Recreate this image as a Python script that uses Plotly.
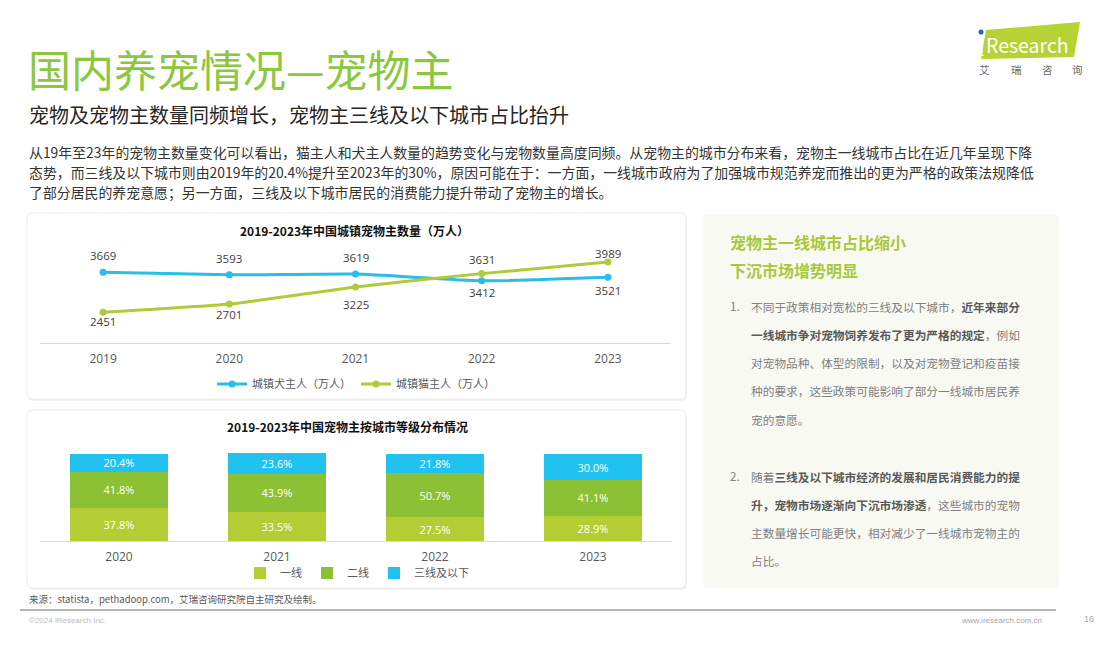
import plotly.graph_objects as go

W, H = 1106, 649

# ---- data ----
years_line = ["2019", "2020", "2021", "2022", "2023"]
dog_owners = [3669, 3593, 3619, 3412, 3521]
cat_owners = [2451, 2701, 3225, 3631, 3989]

years_bar = ["2020", "2021", "2022", "2023"]
tier1 = [37.8, 33.5, 27.5, 28.9]
tier2 = [41.8, 43.9, 50.7, 41.1]
tier3 = [20.4, 23.6, 21.8, 30.0]

# label offsets (pixels, positive = up)
dog_shift = [17, 16, 17, -12, -13]
cat_shift = [-9, -10, -18, 14, 8]

DOG = "#29bde8"
CAT = "#b0cb3a"
T1 = "#b4cd34"
T2 = "#8cc135"
T3 = "#21c2ef"
FONT = "Noto Sans CJK SC"
NUMFONT = "Open Sans, Noto Sans CJK SC"


def px(x):
    return x / W


def py(y):
    return 1 - y / H


def rrect(x0, y0, x1, y1, r):
    # rounded rectangle in paper coords, corners given in pixels
    pts = [
        ("M", x0 + r, y0), ("L", x1 - r, y0), ("Q", x1, y0, x1, y0 + r),
        ("L", x1, y1 - r), ("Q", x1, y1, x1 - r, y1),
        ("L", x0 + r, y1), ("Q", x0, y1, x0, y1 - r),
        ("L", x0, y0 + r), ("Q", x0, y0, x0 + r, y0),
    ]
    s = ""
    for p in pts:
        if p[0] == "Q":
            s += "Q%f,%f %f,%f " % (px(p[1]), py(p[2]), px(p[3]), py(p[4]))
        else:
            s += "%s%f,%f " % (p[0], px(p[1]), py(p[2]))
    return s + "Z"


fig = go.Figure()

fig.add_trace(go.Scatter(x=years_line, y=dog_owners, mode="lines+markers", name="城镇犬主人（万人）",
                         line=dict(color=DOG, width=3, shape="spline", smoothing=0.5),
                         marker=dict(size=7, color=DOG), xaxis="x", yaxis="y", legend="legend",
                         hoverinfo="skip"))
fig.add_trace(go.Scatter(x=years_line, y=cat_owners, mode="lines+markers", name="城镇猫主人（万人）",
                         line=dict(color=CAT, width=3, shape="spline", smoothing=0.5),
                         marker=dict(size=7, color=CAT), xaxis="x", yaxis="y", legend="legend",
                         hoverinfo="skip"))

for vals, nm, col in [(tier1, "一线", T1), (tier2, "二线", T2), (tier3, "三线及以下", T3)]:
    fig.add_trace(go.Bar(x=years_bar, y=vals, name=nm, marker=dict(color=col, line=dict(width=0)),
                         text=vals, texttemplate="%{y:.1f}%", textposition="inside",
                         insidetextanchor="middle", textangle=0,
                         textfont=dict(color="white", size=11, family=NUMFONT),
                         xaxis="x2", yaxis="y2", legend="legend2", hoverinfo="skip"))

shapes = []
# chart cards
for (x0, y0, x1, y1) in [(27, 213, 686, 399), (27, 410, 686, 588)]:
    shapes.append(dict(type="path", path=rrect(x0 + 1, y0 + 2, x1 + 1, y1 + 2, 6), xref="paper", yref="paper",
                       fillcolor="#f1f1f1", line=dict(width=0), layer="below"))
    shapes.append(dict(type="path", path=rrect(x0, y0, x1, y1, 6), xref="paper", yref="paper",
                       fillcolor="white", line=dict(color="#ececec", width=1), layer="below"))
# side panel
shapes.append(dict(type="path", path=rrect(703, 214, 1059, 588, 6), xref="paper", yref="paper",
                   fillcolor="#f8f9f3", line=dict(width=0), layer="below"))
# footer rule
shapes.append(dict(type="line", xref="paper", yref="paper", x0=px(20), x1=px(1056), y0=py(610), y1=py(610),
                   line=dict(color="#b5b5b5", width=2)))
# logo
shapes.append(dict(type="path", xref="paper", yref="paper",
                   path="M%f,%f L%f,%f L%f,%f L%f,%f Z" % (px(986), py(30), px(1080), py(22),
                                                            px(1074), py(57), px(981), py(59)),
                   fillcolor="#b5d334", line=dict(width=0)))
shapes.append(dict(type="circle", xref="paper", yref="paper", x0=px(978.5), x1=px(983.5), y0=py(29.5), y1=py(34.5),
                   fillcolor="#2466b0", line=dict(width=0)))

ann = []


def text(x, y, s, size, color, anchor="left", bold=False, family=FONT):
    ann.append(dict(x=px(x), y=py(y), xref="paper", yref="paper", text=("<b>%s</b>" % s) if bold else s,
                    showarrow=False, xanchor=anchor, yanchor="middle",
                    font=dict(size=size, color=color, family=family)))


text(26, 68, "国内养宠情况—宠物主", 43, "#8dc63f")
text(27, 114, "宠物及宠物主数量同频增长，宠物主三线及以下城市占比抬升", 20, "#262626")
para = [
    "从19年至23年的宠物主数量变化可以看出，猫主人和犬主人数量的趋势变化与宠物数量高度同频。从宠物主的城市分布来看，宠物主一线城市占比在近几年呈现下降",
    "态势，而三线及以下城市则由2019年的20.4%提升至2023年的30%，原因可能在于：一方面，一线城市政府为了加强城市规范养宠而推出的更为严格的政策法规降低",
    "了部分居民的养宠意愿；另一方面，三线及以下城市居民的消费能力提升带动了宠物主的增长。",
]
for i, s in enumerate(para):
    text(27, 152 + 20 * i, s, 13.9, "#333333")

# logo text
text(984, 44, "Research", 19.5, "white")
ann.append(dict(x=px(981), y=py(47), xref="paper", yref="paper", text="ı", showarrow=False,
                xanchor="center", yanchor="middle", font=dict(size=19, color="white", family=FONT)))
for cx, ch in zip([984, 1016, 1047, 1077], "艾瑞咨询"):
    text(cx, 69, ch, 10.5, "#666666", anchor="center")

# chart titles
text(354, 231, "2019-2023年中国城镇宠物主数量（万人）", 12, "#111111", anchor="center", bold=True)
text(347, 426, "2019-2023年中国宠物主按城市等级分布情况", 12, "#111111", anchor="center", bold=True)

# line data labels (x given as category index)
for vals, shifts in [(dog_owners, dog_shift), (cat_owners, cat_shift)]:
    for i, (v, sh) in enumerate(zip(vals, shifts)):
        ann.append(dict(x=i, y=v, xref="x", yref="y", text=str(v), showarrow=False, yshift=sh,
                        font=dict(size=11.5, color="#404040", family=NUMFONT)))

# side panel
text(728, 242, "宠物主一线城市占比缩小", 16, "#a8c83a", bold=True)
text(728, 270, "下沉市场增势明显", 16, "#a8c83a", bold=True)
G = "#808080"
B = "#5a5a5a"
item1 = [
    "不同于政策相对宽松的三线及以下城市，<b><span style='color:%s'>近年来部分</span></b>" % B,
    "<b><span style='color:%s'>一线城市争对宠物饲养发布了更为严格的规定</span></b>，例如" % B,
    "对宠物品种、体型的限制，以及对宠物登记和疫苗接",
    "种的要求，这些政策可能影响了部分一线城市居民养",
    "宠的意愿。",
]
item2 = [
    "随着<b><span style='color:%s'>三线及以下城市经济的发展和居民消费能力的提</span></b>" % B,
    "<b><span style='color:%s'>升，宠物市场逐渐向下沉市场渗透</span></b>，这些城市的宠物" % B,
    "主数量增长可能更快，相对减少了一线城市宠物主的",
    "占比。",
]
text(728, 306, "1.", 11.5, G)
for i, s in enumerate(item1):
    text(749, 306 + 28.3 * i, s, 11.7, G)
text(728, 476, "2.", 11.5, G)
for i, s in enumerate(item2):
    text(749, 476 + 28.3 * i, s, 11.7, G)

# footer
text(27, 599, "来源：statista，pethadoop.com，艾瑞咨询研究院自主研究及绘制。", 9.5, "#595959")
text(27, 620, "©2024 iResearch Inc.", 8, "#bdbdbd", family="Liberation Sans")
text(1044, 620, "www.iresearch.com.cn", 8, "#a6a6a6", anchor="right", family="Liberation Sans")
text(1089, 619, "16", 9, "#a6a6a6", anchor="center", family="Liberation Sans")

fig.update_layout(
    width=W, height=649, margin=dict(l=0, r=0, t=0, b=0),
    paper_bgcolor="white", plot_bgcolor="rgba(0,0,0,0)",
    font=dict(family=FONT, color="#595959"),
    showlegend=True, barmode="stack", bargap=0.38,
    uniformtext=dict(minsize=11, mode="show"),
    shapes=shapes, annotations=ann,
    xaxis=dict(domain=[px(40), px(671)], anchor="y", type="category", range=[-0.5, 4.5],
               showline=True, linecolor="#d9d9d9", linewidth=1, showgrid=False, zeroline=False,
               ticks="", ticklabelstandoff=4, tickfont=dict(size=12, color="#595959", family=NUMFONT)),
    yaxis=dict(domain=[py(343.3), py(245.2)], anchor="x", range=[1500, 4500], visible=False),
    xaxis2=dict(domain=[px(40), px(672)], anchor="y2", type="category", range=[-0.5, 3.5],
                showline=True, linecolor="#d9d9d9", linewidth=1, showgrid=False, zeroline=False,
                ticks="", ticklabelstandoff=5, tickfont=dict(size=12, color="#595959", family=NUMFONT)),
    yaxis2=dict(domain=[py(541), py(453.1)], anchor="x2", range=[0, 101], visible=False),
    legend=dict(orientation="h", x=px(356), xanchor="center", y=py(384), yanchor="middle",
                font=dict(size=11, color="#595959"), bgcolor="rgba(0,0,0,0)", itemwidth=30,
                traceorder="normal"),
    legend2=dict(orientation="h", x=px(357), xanchor="center", y=py(573), yanchor="middle",
                 font=dict(size=11, color="#595959"), bgcolor="rgba(0,0,0,0)", itemwidth=30,
                 traceorder="normal"),
)

fig.write_html("out.html", config={"displayModeBar": False},
               post_script="document.body.style.margin='0';")
